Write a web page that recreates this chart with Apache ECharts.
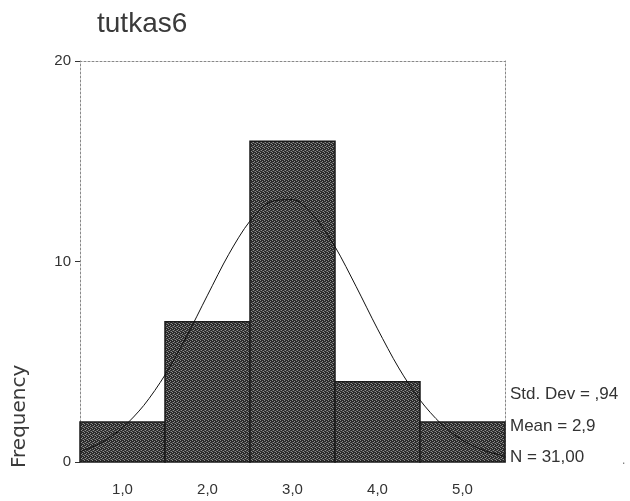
<!DOCTYPE html>
<html><head><meta charset="utf-8">
<script src="https://cdn.jsdelivr.net/npm/echarts@6/dist/echarts.min.js"></script>
<style>html,body{margin:0;padding:0;background:#fff}#c{width:630px;height:501px}</style>
</head><body><div id="c"></div>
<script>
const binCenters = [1, 2, 3, 4, 5];
const binCounts = [2, 7, 16, 4, 2];
const xTickValues = [1, 2, 3, 4, 5];
const yTickValues = [0, 10, 20];
const curveX = [0.5,0.75,1.0,1.25,1.5,1.75,2.0,2.25,2.5,2.75,3.0,3.25,3.5,3.75,4.0,4.25,4.5,4.75,5.0,5.25,5.5];
const curveY = [0.51,0.96,1.71,2.82,4.34,6.23,8.32,10.36,12.02,12.99,13.09,12.28,10.74,8.74,6.64,4.69,3.09,1.90,1.09,0.58,0.29];
const titleText = 'tutkas6';
const yName = 'Frequency';
const statsLines = ['Std. Dev = ,94', 'Mean = 2,9', 'N = 31,00'];

// halftone-like texture for the bars
const pc = document.createElement('canvas');
pc.width = 4; pc.height = 4;
const pctx = pc.getContext('2d');
pctx.fillStyle = '#2a2a2a'; pctx.fillRect(0, 0, 4, 4);
pctx.fillStyle = '#8c8c8c';
[[0,0],[2,1],[1,2],[3,3]].forEach(p => pctx.fillRect(p[0], p[1], 1, 1));
pctx.fillStyle = '#555';
[[2,3],[0,2]].forEach(p => pctx.fillRect(p[0], p[1], 1, 1));

const chart = echarts.init(document.getElementById('c'));
const font = '"Liberation Sans", Arial, sans-serif';
const dotted = {color: '#888', type: [2, 2], width: 1};
chart.setOption({
  animation: false,
  grid: {left: 80, right: 125, top: 61, bottom: 39},
  title: {text: titleText, left: 92, top: 5, textStyle: {fontFamily: font, fontSize: 28, fontWeight: 'normal', color: '#3a3a3a'}},
  xAxis: [{
    type: 'value', min: 0.5, max: 5.5,
    axisLine: {show: false}, axisTick: {show: false}, splitLine: {show: false},
    axisLabel: {customValues: xTickValues, margin: 20, fontFamily: font, fontSize: 15, color: '#333',
      formatter: v => v.toFixed(1).replace('.', ',')}
  }, {
    type: 'value', position: 'top', min: 0.5, max: 5.5,
    axisLine: {show: true, onZero: false, lineStyle: dotted}, axisTick: {show: false}, axisLabel: {show: false}, splitLine: {show: false}
  }],
  yAxis: [{
    type: 'value', min: 0, max: 20, interval: 10,
    axisLine: {show: true, lineStyle: dotted},
    axisTick: {show: true, length: 5, lineStyle: {color: '#333'}},
    splitLine: {show: false},
    axisLabel: {customValues: yTickValues, margin: 9, fontFamily: font, fontSize: 15, color: '#333'}
  }, {
    type: 'value', position: 'right', min: 0, max: 20,
    axisLine: {show: true, onZero: false, lineStyle: dotted}, axisTick: {show: false}, axisLabel: {show: false}, splitLine: {show: false}
  }],
  graphic: [
    {type: 'text', x: 10, y: 468, rotation: Math.PI / 2, style: {text: yName, font: '20px "DejaVu Sans", sans-serif', fill: '#3a3a3a'}},
    {type: 'text', x: 510, y: 394, style: {text: statsLines[0], font: '17px ' + font, fill: '#333', verticalAlign: 'middle'}},
    {type: 'text', x: 510, y: 426, style: {text: statsLines[1], font: '17px ' + font, fill: '#333', verticalAlign: 'middle'}},
    {type: 'text', x: 510, y: 457, style: {text: statsLines[2], font: '17px ' + font, fill: '#333', verticalAlign: 'middle'}},
    {type: 'text', x: 622, y: 461, style: {text: '.', font: '12px ' + font, fill: '#777', verticalAlign: 'middle'}}
  ],
  series: [{
    type: 'custom',
    data: binCenters.map((c, i) => [c, binCounts[i]]),
    renderItem: function (params, api) {
      const x = api.value(0), y = api.value(1);
      const p0 = api.coord([x - 0.5, y]);
      const p1 = api.coord([x + 0.5, 0]);
      return {
        type: 'rect',
        shape: {x: p0[0], y: p0[1], width: p1[0] - p0[0], height: p1[1] - p0[1]},
        style: {fill: {image: pc, repeat: 'repeat'}, stroke: '#1a1a1a', lineWidth: 1.5}
      };
    }
  }, {
    type: 'line', smooth: 0.3, symbol: 'none',
    data: curveX.map((x, i) => [x, curveY[i]]),
    lineStyle: {color: '#111', width: 1}, z: 5
  }]
});
</script></body></html>
